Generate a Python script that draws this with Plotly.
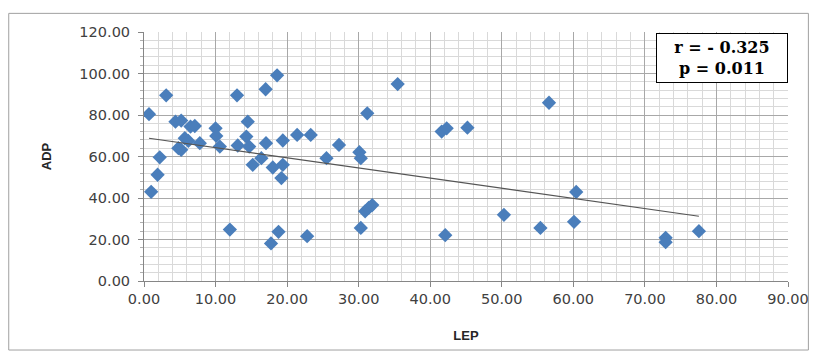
import plotly.graph_objects as go

# LEP (x) and ADP (y) values
lep = [0.7, 1.0, 1.9, 2.2, 3.1, 4.4, 5.2, 6.5, 7.1, 5.7, 6.2, 7.8, 4.8, 5.2,
       10.0, 10.1, 10.6, 12.0, 13.0, 13.1, 14.3, 14.5, 14.7, 15.2, 16.4, 17.0,
       17.05, 17.75, 18.0, 18.6, 18.8, 19.2, 19.4, 19.4, 21.4, 22.8, 23.3, 25.5,
       27.25, 30.1, 30.3, 30.3, 30.9, 31.4, 31.9, 31.2, 35.45, 41.6, 42.3, 42.1,
       45.2, 50.3, 55.4, 56.6, 60.1, 60.4, 72.9, 72.9, 77.55]
adp = [80.4, 43.0, 51.2, 59.6, 89.5, 76.8, 77.3, 74.4, 74.7, 68.8, 67.5, 66.4, 64.0, 63.2,
       73.6, 69.9, 64.8, 24.8, 89.5, 65.3, 69.6, 76.8, 64.8, 56.0, 59.2, 92.4,
       66.4, 18.1, 54.7, 99.1, 23.7, 49.6, 56.0, 67.7, 70.4, 21.6, 70.4, 59.2,
       65.6, 62.1, 59.2, 25.6, 33.6, 35.2, 36.6, 80.8, 94.9, 72.0, 73.6, 22.1,
       73.9, 31.9, 25.6, 85.9, 28.5, 42.9, 20.8, 18.7, 24.0]

# linear trend line (at min and max LEP)
trend_x = [0.7, 77.55]
trend_y = [68.8, 31.2]

x_ticks = [0, 10, 20, 30, 40, 50, 60, 70, 80, 90]
y_ticks = [0, 20, 40, 60, 80, 100, 120]
stats_text = "r = - 0.325<br>p = 0.011"

fig = go.Figure()
fig.add_trace(go.Scatter(
    x=lep, y=adp, mode="markers",
    marker=dict(symbol="diamond", size=11, color="#4a7ebb", line=dict(width=0)),
    showlegend=False, hoverinfo="x+y"))
fig.add_trace(go.Scatter(
    x=trend_x, y=trend_y, mode="lines", line=dict(color="#555555", width=1.2),
    showlegend=False, hoverinfo="skip"))

tickfont = dict(family="DejaVu Sans", size=14.5, color="#404040")
titlefont = dict(family="Liberation Sans Narrow, Arial Narrow, Arial", size=13, color="#262626", weight="bold")

fig.update_layout(
    width=821, height=353,
    margin=dict(l=144, r=29.5, t=31.7, b=71.3),
    paper_bgcolor="white", plot_bgcolor="white",
    xaxis=dict(
        range=[0, 90], tickvals=x_ticks, ticktext=[f"{v:.2f}" for v in x_ticks],
        tickfont=tickfont, ticks="outside", ticklen=5, tickcolor="#868686",
        showline=True, linecolor="#868686", linewidth=1,
        showgrid=True, gridcolor="#a8a8a8", gridwidth=1, zeroline=False,
        minor=dict(dtick=2, showgrid=True, gridcolor="#d9d9d9", ticks=""),
        title=dict(text="LEP", font=titlefont, standoff=24),
    ),
    yaxis=dict(
        range=[0, 120], tickvals=y_ticks, ticktext=[f"{v:.2f}" for v in y_ticks],
        tickfont=tickfont, ticks="outside", ticklen=5, tickcolor="#868686",
        ticklabelstandoff=5,
        showline=True, linecolor="#868686", linewidth=1,
        showgrid=True, gridcolor="#a8a8a8", gridwidth=1, zeroline=False,
        minor=dict(dtick=4, showgrid=True, gridcolor="#d9d9d9", ticks="outside",
                   ticklen=3, tickcolor="#b0b0b0"),
        title=dict(text="ADP", font=titlefont, standoff=24),
    ),
    annotations=[dict(
        text=stats_text, xref="paper", yref="paper", x=1.0, y=0.995,
        xanchor="right", yanchor="top", showarrow=False, align="center",
        font=dict(family="DejaVu Serif", size=16, color="black", weight="bold"),
        bgcolor="white", bordercolor="black", borderwidth=1, borderpad=2,
        width=126, height=44,
    )],
    shapes=[dict(
        type="rect", xref="paper", yref="paper",
        x0=(8 - 144) / 647.5, x1=(812 - 144) / 647.5,
        y0=(281.7 - 351) / 250, y1=(281.7 - 13) / 250,
        line=dict(color="#a0a0a0", width=1), fillcolor="rgba(0,0,0,0)", layer="below",
    )],
)

fig.write_html("out.html", config={"displayModeBar": False},
               post_script="document.body.style.margin='0px';document.body.style.overflow='hidden';")
